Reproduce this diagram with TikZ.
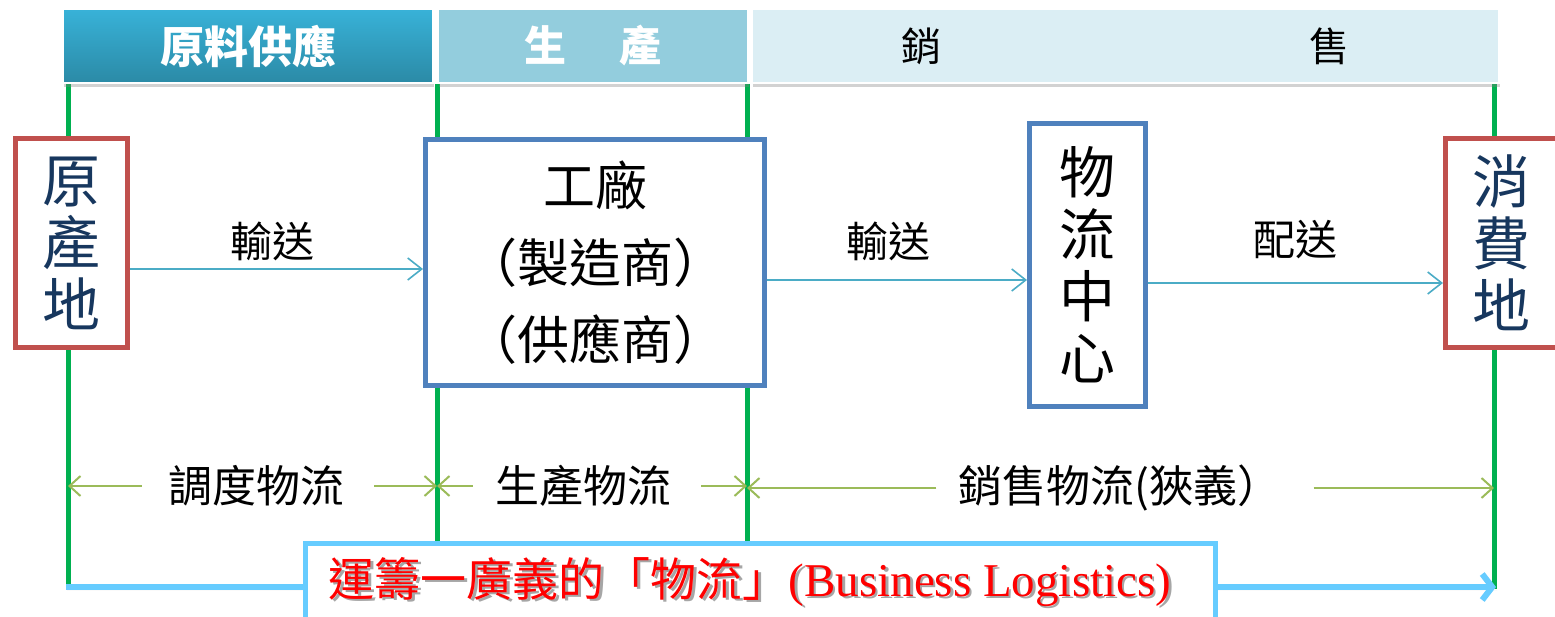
\documentclass[tikz,border=0pt]{standalone}
\usepackage{fontspec}
\setmainfont{Liberation Serif}
\newfontfamily\cjk{Noto Sans CJK TC}
\usetikzlibrary{arrows.meta,shadows,calc}
\definecolor{navy}{HTML}{17375E}
\definecolor{redb}{HTML}{C0504D}
\definecolor{blueb}{HTML}{4F81BD}
\definecolor{gline}{HTML}{00B050}
\definecolor{flowc}{HTML}{4BACC6}
\definecolor{dimc}{HTML}{9BBB59}
\definecolor{lblue}{HTML}{66CCFF}
\definecolor{hdrtop}{HTML}{38B2D8}
\definecolor{hdrbot}{HTML}{2B8AA6}
\definecolor{hdrtwo}{HTML}{93CDDD}
\definecolor{hdrthree}{HTML}{DBEEF4}
\definecolor{txtred}{HTML}{FF0000}
\begin{document}
\begin{tikzpicture}[x=1pt,y=-1pt,
  hdr/.style={minimum height=74, draw=white, line width=1.5pt, inner sep=0pt,
    drop shadow={shadow xshift=1pt,shadow yshift=-4pt,opacity=0.35}},
  gl/.style={draw=gline, line width=5pt},
  placebox/.style={draw=redb, line width=5pt, fill=white, inner sep=0pt, minimum width=112, minimum height=209,
    text=navy, align=center, font=\cjk\fontsize{58}{62}\selectfont},
  bluebox/.style={draw=blueb, line width=5pt, fill=white, inner sep=0pt, align=center},
  flow/.style={draw=flowc, line width=1.6pt, -{Straight Barb[length=14pt,width=22pt,line width=1.6pt]}},
  dim/.style={draw=dimc, line width=2pt, -{Straight Barb[length=11pt,width=20pt,line width=2pt]}},
  lab/.style={font=\cjk\fontsize{42}{46}\selectfont, inner sep=0pt},
]
\useasboundingbox (0,0) rectangle (1555,617);
\fill[white] (0,0) rectangle (1555,617);
% green vertical lines
\coordinate (gAt) at (68,84);   \coordinate (gAb) at (68,589);
\coordinate (gBt) at (437,84);  \coordinate (gBb) at (437,545);
\coordinate (gCt) at (747,84);  \coordinate (gCb) at (747,545);
\coordinate (gDt) at (1494,84); \coordinate (gDb) at (1494,589);
\draw[gl] (gAt) -- (gAb);
\draw[gl] (gBt) -- (gBb);
\draw[gl] (gCt) -- (gCb);
\draw[gl] (gDt) -- (gDb);
% bottom blue arrow
\coordinate (bl) at (66,587);
\coordinate (br) at (1496,587);
\draw[draw=lblue, line width=6pt, -{Straight Barb[length=10pt,width=26pt,line width=6pt]},
  drop shadow={shadow xshift=1pt,shadow yshift=-3pt,opacity=0.3}] (bl) -- (br);
% headers
\node[hdr, top color=hdrtop, bottom color=hdrbot, minimum width=370, text=white,
  font=\cjk\bfseries\fontsize{44}{48}\selectfont] (h1) at (248,46) {原料供應};
\node[hdr, fill=hdrtwo, minimum width=310, text=white,
  font=\cjk\bfseries\fontsize{42}{48}\selectfont] (h2) at (593,46) {生\hspace{54pt}產};
\node[hdr, fill=hdrthree, minimum width=747, text=black,
  font=\cjk\fontsize{40}{48}\selectfont] (h3) at (1125.5,46) {銷\hspace{368pt}售};
% boxes
\node[placebox] (src) at (71.5,243) {原\\產\\地};
\node[placebox] (dest) at (1501.5,243) {消\\費\\地};
\node[bluebox, minimum width=339, minimum height=246, font=\cjk\fontsize{52}{77}\selectfont] (fac) at (595,262.5)
  {工廠\\（製造商）\\（供應商）};
\node[bluebox, minimum width=116, minimum height=283, font=\cjk\fontsize{56}{62}\selectfont] (dc) at (1087.5,265)
  {物\\流\\中\\心};
% flow arrows
\coordinate (ya) at (0,269);
\coordinate (yb) at (0,280);
\coordinate (yc) at (0,283);
\draw[flow] (src.east |- ya) -- (fac.west |- ya);
\draw[flow] (fac.east |- yb) -- (dc.west |- yb);
\draw[flow] (dc.east |- yc) -- (dest.west |- yc);
\node[lab] (t1) at (272,241) {輸送};
\node[lab] (t2) at (888,241) {輸送};
\node[lab] (t3) at (1295,240) {配送};
% dimension labels
\node[lab, font=\cjk\fontsize{44}{48}\selectfont] (d1) at (256,486) {調度物流};
\node[lab, font=\cjk\fontsize{44}{48}\selectfont] (d2) at (583,486) {生產物流};
\node[lab, font=\cjk\fontsize{44}{48}\selectfont] (d3) at (1120,488) {銷售物流(狹義）};
\draw[dim] ([xshift=-26pt]d1.west) -- (d1.west -| gAt);
\draw[dim] ([xshift=30pt]d1.east) -- (d1.east -| gBt);
\draw[dim] ([xshift=-22pt]d2.west) -- (d2.west -| gBt);
\draw[dim] ([xshift=30pt]d2.east) -- (d2.east -| gCt);
\draw[dim] ([xshift=-22pt]d3.west) -- (d3.west -| gCt);
\draw[dim] ([xshift=32pt]d3.east) -- (d3.east -| gDt);
% bottom box
\node[draw=lblue, line width=5pt, fill=white, minimum width=910, minimum height=90] (lbox) at (760.5,588.5) {};
\node[text=black!35, inner sep=0pt] (lshadow) at (752.5,584.5)
  {{\cjk\fontsize{46}{50}\selectfont 運籌一廣義的「物流」}{\fontsize{47}{50}\selectfont(Business Logistics)}};
\node[text=txtred, inner sep=0pt] (ltext) at (750,582)
  {{\cjk\fontsize{46}{50}\selectfont 運籌一廣義的「物流」}{\fontsize{47}{50}\selectfont(Business Logistics)}};
\end{tikzpicture}
\end{document}
